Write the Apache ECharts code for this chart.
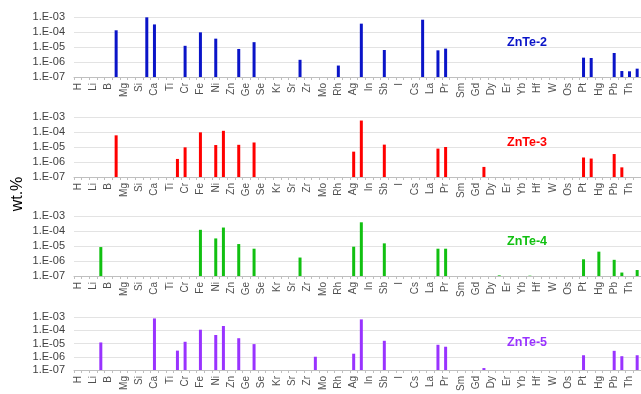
<!DOCTYPE html>
<html>
<head>
<meta charset="utf-8">
<script src="https://cdn.jsdelivr.net/npm/echarts@6/dist/echarts.min.js"></script>
<style>
  html, body { margin: 0; padding: 0; background: #fff; }
  #chart { width: 641px; height: 394px; }
</style>
</head>
<body>
<div id="chart"></div>
<script>
// elements on the x axis (only every other one is labelled)
const elements = ['H','He','Li','Be','B','Na','Mg','Al','Si','K','Ca','Sc','Ti','V','Cr','Mn','Fe','Co','Ni','Cu',
  'Zn','Ga','Ge','As','Se','Br','Kr','Rb','Sr','Y','Zr','Nb','Mo','Ru','Rh','Pd','Ag','Cd','In','Sn','Sb','Te','I','Xe',
  'Cs','Ba','La','Ce','Pr','Nd','Sm','Eu','Gd','Tb','Dy','Ho','Er','Tm','Yb','Lu','Hf','Ta','W','Re','Os','Ir','Pt','Au',
  'Hg','Tl','Pb','Bi','Th','U'];

const yTicks = [1e-7, 1e-6, 1e-5, 1e-4, 1e-3];

const sampleNames = ['ZnTe-2', 'ZnTe-3', 'ZnTe-4', 'ZnTe-5'];
const sampleColors = ['#0A14C8', '#FF0000', '#11C011', '#9933FF'];

// wt.% per element
const znte2 = [['Na',1.3e-4],['K',9.5e-4],['Ca',3.2e-4],['Cr',1.2e-5],['Fe',9.5e-5],['Ni',3.6e-5],['Ga',7.4e-6],
  ['As',2.1e-5],['Y',1.4e-6],['Rh',5.8e-7],['Cd',3.6e-4],['Sb',6.3e-6],['Ba',6.6e-4],['Ce',6.0e-6],['Pr',7.8e-6],
  ['Pt',1.95e-6],['Au',1.85e-6],['Pb',4.0e-6],['Bi',2.5e-7],['Th',2.4e-7],['U',3.6e-7]];
const znte3 = [['Na',6.0e-5],['V',1.6e-6],['Cr',9.5e-6],['Fe',9.5e-5],['Ni',1.35e-5],['Cu',1.2e-4],['Ga',1.4e-5],
  ['As',2.0e-5],['Ag',4.9e-6],['Cd',5.8e-4],['Sb',1.44e-5],['Ce',7.8e-6],['Pr',1.0e-5],['Tb',4.7e-7],['Pt',2.0e-6],
  ['Au',1.7e-6],['Pb',3.4e-6],['Bi',4.4e-7]];
const znte4 = [['Be',8.5e-6],['Fe',1.2e-4],['Ni',3.2e-5],['Cu',1.7e-4],['Ga',1.35e-5],['As',6.6e-6],['Y',1.7e-6],
  ['Ag',9.0e-6],['Cd',3.8e-4],['Sb',1.5e-5],['Ce',6.6e-6],['Pr',6.6e-6],['Ho',1.1e-7],['Lu',1.05e-7],['Pt',1.3e-6],
  ['Hg',4.2e-6],['Pb',1.2e-6],['Bi',1.7e-7],['U',2.5e-7]];
const znte5 = [['Be',1.2e-5],['Ca',7.8e-4],['V',2.9e-6],['Cr',1.35e-5],['Fe',1.1e-4],['Ni',4.4e-5],['Cu',2.1e-4],
  ['Ga',2.5e-5],['As',9.0e-6],['Nb',1.0e-6],['Ag',1.7e-6],['Cd',6.6e-4],['Sb',1.6e-5],['Ce',8.0e-6],['Pr',5.7e-6],
  ['Tb',1.4e-7],['Pt',1.3e-6],['Pb',2.8e-6],['Bi',1.1e-6],['U',1.3e-6]];

const samples = [znte2, znte3, znte4, znte5];
const panelTops = [17, 117, 216, 317];

const chart = echarts.init(document.getElementById('chart'));

const fmtExp = (v) => {
  const e = Math.round(Math.log10(v));
  return '1.E' + (e < 0 ? '-' : '+') + String(Math.abs(e)).padStart(2, '0');
};

const grids = [], xAxes = [], yAxes = [], series = [], titles = [];

samples.forEach((data, i) => {
  grids.push({ left: 74, top: panelTops[i], width: 568, height: 60 });
  xAxes.push({
    gridIndex: i,
    type: 'category',
    data: elements,
    boundaryGap: true,
    axisLine: { lineStyle: { color: '#BFBFBF' } },
    axisTick: { show: true, interval: 0, alignWithLabel: false, length: 3, lineStyle: { color: '#BFBFBF' } },
    axisLabel: {
      interval: 1, rotate: 90, margin: 6,
      fontFamily: 'Liberation Sans', fontSize: 10, color: '#505050'
    },
    splitLine: { show: false }
  });
  yAxes.push({
    gridIndex: i,
    type: 'log',
    logBase: 10,
    min: yTicks[0],
    max: yTicks[yTicks.length - 1],
    interval: 1,
    axisLine: { show: false },
    axisTick: { show: false },
    axisLabel: {
      formatter: fmtExp, margin: 9,
      fontFamily: 'Liberation Sans', fontSize: 11, color: '#404040'
    },
    splitLine: { lineStyle: { color: '#E3E3E3', width: 1 } }
  });
  const color = sampleColors[i];
  series.push({
    type: 'custom',
    name: sampleNames[i],
    xAxisIndex: i,
    yAxisIndex: i,
    encode: { x: 0, y: 1 },
    data: data,
    renderItem: (params, api) => {
      const top = api.coord([api.value(0), api.value(1)]);
      const base = api.coord([api.value(0), yTicks[0]]);
      const w = 3;
      return {
        type: 'rect',
        shape: { x: top[0] - w / 2, y: top[1], width: w, height: base[1] - top[1] },
        style: { fill: color }
      };
    }
  });
  titles.push({
    text: sampleNames[i],
    left: 502,
    top: panelTops[i] + 14,
    textStyle: { color: color, fontSize: 12.5, fontWeight: 'bold', fontFamily: 'Liberation Sans' }
  });
});

chart.setOption({
  animation: false,
  title: titles,
  grid: grids,
  xAxis: xAxes,
  yAxis: yAxes,
  series: series,
  graphic: [{
    type: 'text',
    x: 18, y: 194,
    rotation: Math.PI / 2,
    style: {
      text: 'wt.%', fontSize: 16, fontFamily: 'Liberation Sans',
      fill: '#000', align: 'center', verticalAlign: 'middle'
    }
  }]
});
</script>
</body>
</html>
